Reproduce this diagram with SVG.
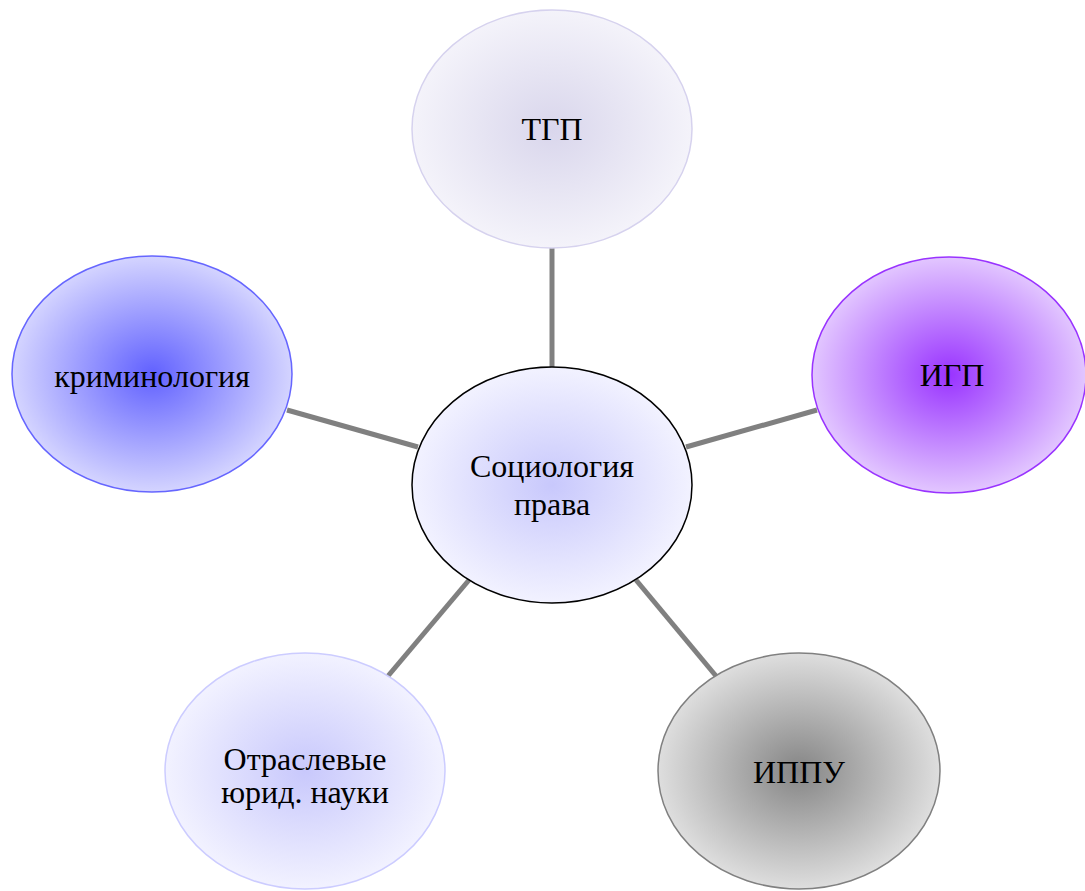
<svg xmlns="http://www.w3.org/2000/svg" width="1085" height="891" viewBox="0 0 1085 891">
<style>
.lbl{font-family:"Liberation Serif","Times New Roman",serif;font-size:32px;fill:#000;text-anchor:middle}
.conn{stroke:#808080;stroke-width:5;fill:none}
</style>
<defs>
<radialGradient id="gTGP"><stop offset="0" stop-color="#d9d6ec"/><stop offset="1" stop-color="#f4f3fa"/></radialGradient>
<radialGradient id="gC"><stop offset="0" stop-color="#c8c8fc"/><stop offset="1" stop-color="#f2f2ff"/></radialGradient>
<radialGradient id="gIGP"><stop offset="0" stop-color="#9933ff"/><stop offset="1" stop-color="#e2c6ff"/></radialGradient>
<radialGradient id="gK"><stop offset="0" stop-color="#6161ff"/><stop offset="1" stop-color="#d4d4ff"/></radialGradient>
<radialGradient id="gO"><stop offset="0" stop-color="#c8c8fc"/><stop offset="1" stop-color="#f2f2ff"/></radialGradient>
<radialGradient id="gI"><stop offset="0" stop-color="#858585"/><stop offset="1" stop-color="#dedede"/></radialGradient>
</defs>
<rect width="1085" height="891" fill="#fff"/>
<g id="connectors">
<line class="conn" x1="552" y1="248" x2="552" y2="368"/>
<line class="conn" x1="287" y1="410" x2="418" y2="447"/>
<line class="conn" x1="686" y1="447" x2="817" y2="410"/>
<line class="conn" x1="388" y1="676" x2="469" y2="580"/>
<line class="conn" x1="636" y1="580" x2="716" y2="676"/>
</g>
<g id="node-tgp">
<ellipse cx="552" cy="129" rx="140" ry="119" fill="url(#gTGP)" stroke="#d6d2ee" stroke-width="1.5"/>
<text class="lbl" x="552" y="140">ТГП</text>
</g>
<g id="node-center">
<ellipse cx="552" cy="485" rx="140" ry="118" fill="url(#gC)" stroke="#000" stroke-width="1.5"/>
<text class="lbl" x="552" y="477">Социология</text>
<text class="lbl" x="552" y="515">права</text>
</g>
<g id="node-igp">
<ellipse cx="949" cy="375" rx="137" ry="118" fill="url(#gIGP)" stroke="#9933ff" stroke-width="1.5"/>
<text class="lbl" x="952" y="386">ИГП</text>
</g>
<g id="node-krim">
<ellipse cx="152" cy="374" rx="140" ry="118" fill="url(#gK)" stroke="#6666ff" stroke-width="1.5"/>
<text class="lbl" x="152" y="387">криминология</text>
</g>
<g id="node-otr">
<ellipse cx="305" cy="771" rx="140" ry="118" fill="url(#gO)" stroke="#ccccff" stroke-width="1.5"/>
<text class="lbl" x="305" y="770">Отраслевые</text>
<text class="lbl" x="305" y="803">юрид. науки</text>
</g>
<g id="node-ippu">
<ellipse cx="799" cy="771" rx="141" ry="118" fill="url(#gI)" stroke="#808080" stroke-width="1.5"/>
<text class="lbl" x="799" y="783">ИППУ</text>
</g>
</svg>
